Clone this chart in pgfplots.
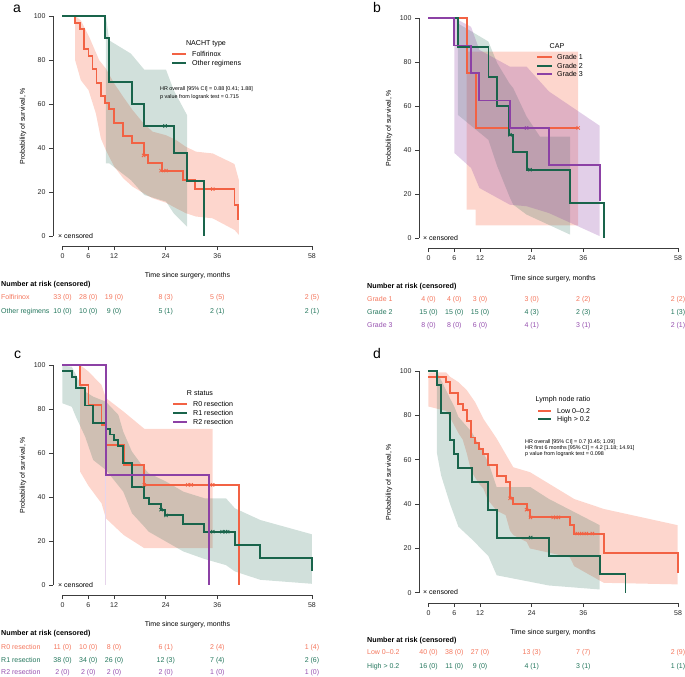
\documentclass[border=0pt]{standalone}
\usepackage{fontspec}
\setmainfont{Liberation Sans}
\usepackage{pgfplots}
\pgfplotsset{compat=1.18}
\definecolor{ocol}{RGB}{242,98,68}
\definecolor{gcol}{RGB}{25,100,75}
\definecolor{pcol}{RGB}{140,65,165}
\definecolor{obandc}{RGB}{248,120,90}
\definecolor{otxt}{RGB}{244,118,92}
\definecolor{gtxt}{RGB}{35,118,92}
\definecolor{ptxt}{RGB}{150,80,175}
\definecolor{axc}{RGB}{60,60,60}
\newcommand{\fs}[1]{\fontsize{#1}{#1}\selectfont}
\pgfplotsset{
 km/.style={
  scale only axis, width=259bp, height=230bp,
  xmin=-2.2, xmax=58, ymin=-4.6, ymax=100,
  axis x line*=bottom, axis y line*=left,
  axis line style={draw=none},
  xtick={0,6,12,24,36,58}, ytick={0,20,40,60,80,100},
  tick align=outside, major tick length=4bp,
  major tick style={axc, line width=0.7bp},
  tick label style={font=\fs{7bp}, text=black!85},
  /pgf/number format/assume math mode=true,
  clip=false,
  ylabel={Probability of survival, \%},
  ylabel style={at={(axis description cs:-0.116,0.522)}, anchor=center, font=\fs{7bp}},
 },
 oline/.style={const plot, color=ocol, line width=1.9bp, mark=none},
 gline/.style={const plot, color=gcol, line width=1.9bp, mark=none},
 pline/.style={const plot, color=pcol, line width=1.9bp, mark=none},
 cens/.style={only marks, mark=x, mark size=2.3bp, mark options={line width=0.8bp}},
 oband/.style={draw=none, fill=obandc, fill opacity=0.3, mark=none},
 gband/.style={draw=none, fill=gcol, fill opacity=0.2, mark=none},
 pband/.style={draw=none, fill=pcol, fill opacity=0.25, mark=none},
}
\tikzset{
 rt/.style={inner sep=0pt, text depth=0pt, anchor=center, font=\fs{7bp}},
 lt/.style={inner sep=0pt, text depth=0pt, anchor=west, font=\fs{7bp}},
 hr/.style={inner sep=0pt, text depth=0pt, anchor=west, font=\fs{5.4bp}},
 nar/.style={inner sep=0pt, text depth=0pt, anchor=west, font=\fs{7.2bp}\bfseries},
 pl/.style={inner sep=0pt, anchor=base west, font=\fs{14bp}},
 lg/.style={line width=1.9bp},
}
\newcommand{\rr}[9]{%
\node[rt,text=#3] at (#1bp,-#2bp) {#4};
\node[rt,text=#3] at ({#1bp+25.81bp},-#2bp) {#5};
\node[rt,text=#3] at ({#1bp+51.62bp},-#2bp) {#6};
\node[rt,text=#3] at ({#1bp+103.25bp},-#2bp) {#7};
\node[rt,text=#3] at ({#1bp+154.87bp},-#2bp) {#8};
\node[rt,text=#3] at ({#1bp+249.5bp},-#2bp) {#9};}
\newcommand{\PP}[2]{(#1bp,-#2bp)}
\begin{document}
\begin{tikzpicture}
\useasboundingbox (0bp,0bp) rectangle (685bp,-677bp);

% ================= Panel a =================
\begin{axis}[km, at={(53bp,-246bp)}, anchor=south west]
\addplot[oband] coordinates {(2.95,100)(4.27,98)(6.21,90.5)(8.54,79.9)(10.09,76.1)(12.03,69.3)(14.13,63.2)(16.3,57.2)(18.87,51.1)(20.96,47.4)(24.07,45.8)(26.4,43.6)(28.7,40.5)(31.06,38.3)(34.9,37.5)(39.98,32.7)(41.0,25.4)
 (41.0,0.5)(40.0,2.7)(34.9,8.0)(31.06,8.8)(28.7,10.3)(26.4,12.6)(24.07,15.1)(20.96,17.1)(18.87,19.4)(16.3,22.4)(14.13,26.2)(12.03,31.5)(10.09,39.0)(8.93,44.3)(7.76,55.7)(6.06,66.3)(4.27,70.8)(2.95,79.9)};
\addplot[gband] coordinates {(10.09,100)(10.87,88.9)(15.9,82.9)(19.02,75.6)(24.07,75.6)(25.85,66.3)(28.96,54.9)
 (28.96,4.2)(25.85,10.3)(24.07,15.6)(19.02,18.6)(15.9,25.4)(10.87,33.0)(10.09,33.0)};
\addplot[oline] coordinates {(0,100)(2.95,97.0)(4.04,93.9)(5.05,84.8)(6.06,81.8)(6.99,75.8)(7.92,69.7)(8.93,63.6)(9.94,60.6)(10.87,57.6)(12.03,51.5)(13.98,45.4)(16.15,42.4)(18.87,36.6)(19.8,33.0)(23.14,29.7)(27.95,25.4)(30.9,21.3)(39.98,14.1)(40.9,7.0)};
\addplot[gline] coordinates {(0,100)(9.94,90)(10.87,70)(16.07,60)(19.02,50)(25.85,37.5)(28.96,25)(33.0,0)};
\addplot[cens, ocol] coordinates {(18.87,36.6)(22.9,29.7)(24.07,29.7)(34.94,21.3)};
\addplot[cens, gcol] coordinates {(23.84,50)};
\draw[axc, line width=0.7bp] (axis cs:-2.2,0) -- (axis cs:-2.2,100);
\draw[axc, line width=0.7bp] (axis cs:0,-4.6) -- (axis cs:58,-4.6);
\end{axis}

% ================= Panel b =================
\begin{axis}[km, at={(419bp,-248bp)}, anchor=south west]
\addplot[oband] coordinates {(8.89,84.7)(34.8,84.7)(34.8,5.7)(10.98,5.7)(10.98,12.9)(8.89,12.9)};
\addplot[gband] coordinates {(6.81,97.6)(13.92,89.3)(16.0,79.4)(18.8,70.3)(19.7,68.1)(22.8,55.2)(25.9,46.1)(32.9,46.1)
 (32.9,1.5)(22.8,10.6)(19.7,15.1)(18.8,18.9)(16.0,32.5)(13.92,44.6)(6.81,56.0)};
\addplot[pband] coordinates {(6.03,100)(9.9,96)(11.83,85.5)(18.9,77.9)(22.8,77.9)(28.0,66.6)(39.8,51.0)
 (39.8,0.8)(28.0,11.3)(22.8,14.4)(18.9,15.1)(11.83,22.7)(9.9,31.8)(6.03,38.6)};
\addplot[oline] coordinates {(0,100)(8.89,75)(10.98,50)(34.8,50)};
\addplot[gline] coordinates {(0,100)(6.81,86.7)(13.95,73.3)(16.0,60)(18.8,46.9)(19.7,39.0)(22.8,31.0)(32.9,15.9)(40.8,0)};
\addplot[pline] coordinates {(0,100)(6.03,87.5)(9.9,75)(11.83,62.5)(18.9,50)(28.0,33.3)(39.8,16.6)};
\addplot[cens, ocol] coordinates {(34.8,50)};
\addplot[cens, gcol] coordinates {(18.95,46.9)(23.6,31.0)};
\addplot[cens, pcol] coordinates {(22.8,50)};
\draw[axc, line width=0.7bp] (axis cs:-2.2,0) -- (axis cs:-2.2,100);
\draw[axc, line width=0.7bp] (axis cs:0,-4.6) -- (axis cs:58,-4.6);
\end{axis}

% ================= Panel c =================
\begin{axis}[km, at={(53bp,-595bp)}, anchor=south west]
\addplot[oband] coordinates {(4.11,100)(6.06,97)(9.08,90.9)(10.09,85)(14.21,78.8)(19.02,71)(34.9,71)
 (34.9,16.7)(19.02,16.7)(14.21,22.7)(10.09,30.3)(9.08,37.1)(6.06,45)(4.11,51.5)};
\addplot[gband] coordinates {(0,99.7)(2.17,99.2)(3.8,93)(5.28,87.9)(7.14,85.6)(10.09,83.3)(13.0,77.3)(14.13,69.7)(16.15,60.6)(19.02,53)(20.03,50.8)(24.07,47)(28.1,42.4)(33.0,39.4)(38.0,39.4)(40.1,34.8)(46.0,29.5)(58,23)
 (58,0.5)(46.0,2.3)(40.1,6.1)(38.0,9.0)(33.0,11.8)(28.1,15.2)(24.07,19.7)(20.03,24.2)(19.02,26.5)(16.15,32.6)(14.13,42.4)(10.09,52.3)(7.14,56.8)(5.28,67.4)(3.11,76.5)(2.17,81)(0,82.6)};
\addplot[pcol!22, line width=1bp] coordinates {(10.09,0)(10.09,100)};
\addplot[oline] coordinates {(0,100)(4.11,90.9)(6.06,81.8)(9.08,72.7)(10.09,63.6)(14.21,54.5)(19.02,45.5)(41.0,0)};
\addplot[gline] coordinates {(0,97.4)(2.17,94.7)(3.11,89.5)(5.28,81.6)(7.14,73.7)(10.09,71.1)(11.03,68.4)(11.96,65.8)(12.97,63.2)(14.13,55.3)(16.15,44.7)(19.02,39.5)(20.03,36.8)(22.9,34.2)(23.9,31.6)(28.1,27.7)(33.0,24.2)(40.1,18.2)(46.0,12.1)(58.0,6.1)};
\addplot[pline] coordinates {(0,100)(10.09,50)(34.0,0)};
\addplot[cens, ocol] coordinates {(19.02,45.5)(29.1,45.5)(29.9,45.5)(34.9,45.5)};
\addplot[cens, gcol] coordinates {(22.9,34.2)(24.07,31.6)(34.94,24.2)(37.1,24.2)(37.9,24.2)(38.4,24.2)};
\draw[axc, line width=0.7bp] (axis cs:-2.2,0) -- (axis cs:-2.2,100);
\draw[axc, line width=0.7bp] (axis cs:0,-4.6) -- (axis cs:58,-4.6);
\end{axis}

% ================= Panel d =================
\begin{axis}[km, height=232bp, at={(419bp,-603bp)}, anchor=south west]
\addplot[oband] coordinates {(0,99.4)(4.1,99.4)(5.03,97.4)(6.96,95)(8.89,91.4)(10.83,86)(12.76,78.5)(15.86,69.5)(19.72,56.6)(23.59,54.4)(33.87,42.3)(40.76,37.8)(57.9,30.5)
 (57.9,3.8)(40.76,4.5)(33.87,12)(32.87,16)(23.59,20)(22.8,23)(19.72,26)(18.95,28)(17.94,35)(15.86,37)(13.77,42)(12.76,47)(11.83,49)(10.83,52)(9.9,55)(8.89,63)(7.97,69)(6.96,72)(5.03,79)(4.1,82)(0,84)};
\addplot[gband] coordinates {(1.93,99.7)(2.94,95.9)(5.03,87.6)(6.03,83.8)(6.96,79.3)(10.05,72.5)(13.92,58.9)(15.86,47.6)(23.74,47.6)(28.0,42.3)(39.8,30.5)
 (39.8,1.5)(28.0,3.3)(15.86,7.9)(13.92,16.6)(10.05,24.2)(6.96,29.8)(5.03,40)(2.94,52.9)(1.93,63.4)};
\addplot[oline] coordinates {(0,97.5)(4.1,95.0)(5.03,90.0)(6.96,85.0)(7.97,82.5)(8.89,77.5)(9.9,70.0)(10.83,67.5)(11.83,65.0)(12.76,62.5)(13.77,57.5)(15.86,52.5)(17.94,50.0)(18.95,42.6)(19.72,39.9)(22.8,37.5)(23.59,34.0)(32.87,30.7)(33.87,26.7)(40.76,17.8)(57.9,9.1)};
\addplot[gline] coordinates {(0,100)(1.93,93.7)(2.94,81.1)(5.03,68.7)(6.03,62.7)(6.96,56.2)(10.05,49.8)(13.92,37.5)(15.86,24.9)(28.0,16.6)(39.8,8.3)(45.8,0)};
\addplot[cens, ocol] coordinates {(18.95,42.6)(22.8,37.5)(23.7,34.0)(29.0,34.0)(29.6,34.0)(30.2,34.0)(34.6,26.7)(35.6,26.7)(36.7,26.7)(38.1,26.7)};
\addplot[cens, gcol] coordinates {(23.74,24.9)};
\draw[axc, line width=0.7bp] (axis cs:-2.2,0) -- (axis cs:-2.2,100);
\draw[axc, line width=0.7bp] (axis cs:0,-4.6) -- (axis cs:58,-4.6);
\end{axis}

% ================= Annotations =================
\node[pl] at \PP{13}{12} {a};
\node[pl] at \PP{373}{12} {b};
\node[pl] at \PP{14}{358} {c};
\node[pl] at \PP{373}{358} {d};

\node[lt] at \PP{58}{236} {× censored};
\node[lt] at \PP{423}{238} {× censored};
\node[lt] at \PP{58}{585} {× censored};
\node[lt] at \PP{423}{592} {× censored};

\node[rt] at \PP{187.5}{275} {Time since surgery, months};
\node[rt] at \PP{553}{278} {Time since surgery, months};
\node[rt] at \PP{187.5}{624} {Time since surgery, months};
\node[rt] at \PP{553}{632} {Time since surgery, months};

\node[rt,font=\fs{7.1bp}] at \PP{206}{43} {NACHT type};
\draw[lg,ocol] \PP{172}{54} -- \PP{186}{54}; \node[lt,font=\fs{7.1bp}] at \PP{192}{54} {Folfirinox};
\draw[lg,gcol] \PP{172}{63} -- \PP{186}{63}; \node[lt,font=\fs{7.1bp}] at \PP{192}{63} {Other regimens};
\node[hr] at \PP{160}{89} {HR overall [95\% CI] = 0.88 [0.41; 1.88]};
\node[hr] at \PP{160}{97} {p value from logrank test = 0.715};

\node[rt,font=\fs{7.1bp}] at \PP{557}{46} {CAP};
\draw[lg,ocol] \PP{537}{57} -- \PP{552}{57}; \node[lt,font=\fs{7.1bp}] at \PP{557}{57} {Grade 1};
\draw[lg,gcol] \PP{537}{66} -- \PP{552}{66}; \node[lt,font=\fs{7.1bp}] at \PP{557}{66} {Grade 2};
\draw[lg,pcol] \PP{537}{74} -- \PP{552}{74}; \node[lt,font=\fs{7.1bp}] at \PP{557}{74} {Grade 3};

\node[rt,font=\fs{7.1bp}] at \PP{200}{393} {R status};
\draw[lg,ocol] \PP{173}{404} -- \PP{187}{404}; \node[lt,font=\fs{7.1bp}] at \PP{193}{404} {R0 resection};
\draw[lg,gcol] \PP{173}{413} -- \PP{187}{413}; \node[lt,font=\fs{7.1bp}] at \PP{193}{413} {R1 resection};
\draw[lg,pcol] \PP{173}{422} -- \PP{187}{422}; \node[lt,font=\fs{7.1bp}] at \PP{193}{422} {R2 resection};

\node[rt,font=\fs{7.1bp}] at \PP{563}{399} {Lymph node ratio};
\draw[lg,ocol] \PP{538}{411} -- \PP{551}{411}; \node[lt,font=\fs{7.1bp}] at \PP{557}{411} {Low 0–0.2};
\draw[lg,gcol] \PP{538}{419} -- \PP{551}{419}; \node[lt,font=\fs{7.1bp}] at \PP{557}{419} {High > 0.2};
\node[hr] at \PP{525}{442} {HR overall [95\% CI] = 0.7 [0.45; 1.09]};
\node[hr] at \PP{525}{447.7} {HR first 6 months [95\% CI] = 4.2 [1.18; 14.91]};
\node[hr] at \PP{525}{453.4} {p value from logrank test = 0.098};

\node[nar] at \PP{1}{284} {Number at risk (censored)};
\node[lt,text=otxt] at \PP{1}{297} {Folfirinox};
\node[lt,text=gtxt] at \PP{1}{311} {Other regimens};
\rr{62.5}{297}{otxt}{33 (0)}{28 (0)}{19 (0)}{8 (3)}{5 (5)}{2 (5)}
\rr{62.5}{311}{gtxt}{10 (0)}{10 (0)}{9 (0)}{5 (1)}{2 (1)}{2 (1)}

\node[nar] at \PP{367}{286} {Number at risk (censored)};
\node[lt,text=otxt] at \PP{367}{299} {Grade 1};
\node[lt,text=gtxt] at \PP{367}{312} {Grade 2};
\node[lt,text=ptxt] at \PP{367}{325} {Grade 3};
\rr{428.5}{299}{otxt}{4 (0)}{4 (0)}{3 (0)}{3 (0)}{2 (2)}{2 (2)}
\rr{428.5}{312}{gtxt}{15 (0)}{15 (0)}{15 (0)}{4 (3)}{2 (3)}{1 (3)}
\rr{428.5}{325}{ptxt}{8 (0)}{8 (0)}{6 (0)}{4 (1)}{3 (1)}{2 (1)}

\node[nar] at \PP{1}{633} {Number at risk (censored)};
\node[lt,text=otxt] at \PP{1}{647} {R0 resection};
\node[lt,text=gtxt] at \PP{1}{660} {R1 resection};
\node[lt,text=ptxt] at \PP{1}{672} {R2 resection};
\rr{62.5}{647}{otxt}{11 (0)}{10 (0)}{8 (0)}{6 (1)}{2 (4)}{1 (4)}
\rr{62.5}{660}{gtxt}{38 (0)}{34 (0)}{26 (0)}{12 (3)}{7 (4)}{2 (6)}
\rr{62.5}{672}{ptxt}{2 (0)}{2 (0)}{2 (0)}{2 (0)}{1 (0)}{1 (0)}

\node[nar] at \PP{367}{640} {Number at risk (censored)};
\node[lt,text=otxt] at \PP{367}{652} {Low 0–0.2};
\node[lt,text=gtxt] at \PP{367}{666} {High > 0.2};
\rr{428.5}{652}{otxt}{40 (0)}{38 (0)}{27 (0)}{13 (3)}{7 (7)}{2 (9)}
\rr{428.5}{666}{gtxt}{16 (0)}{11 (0)}{9 (0)}{4 (1)}{3 (1)}{1 (1)}
\end{tikzpicture}
\end{document}
